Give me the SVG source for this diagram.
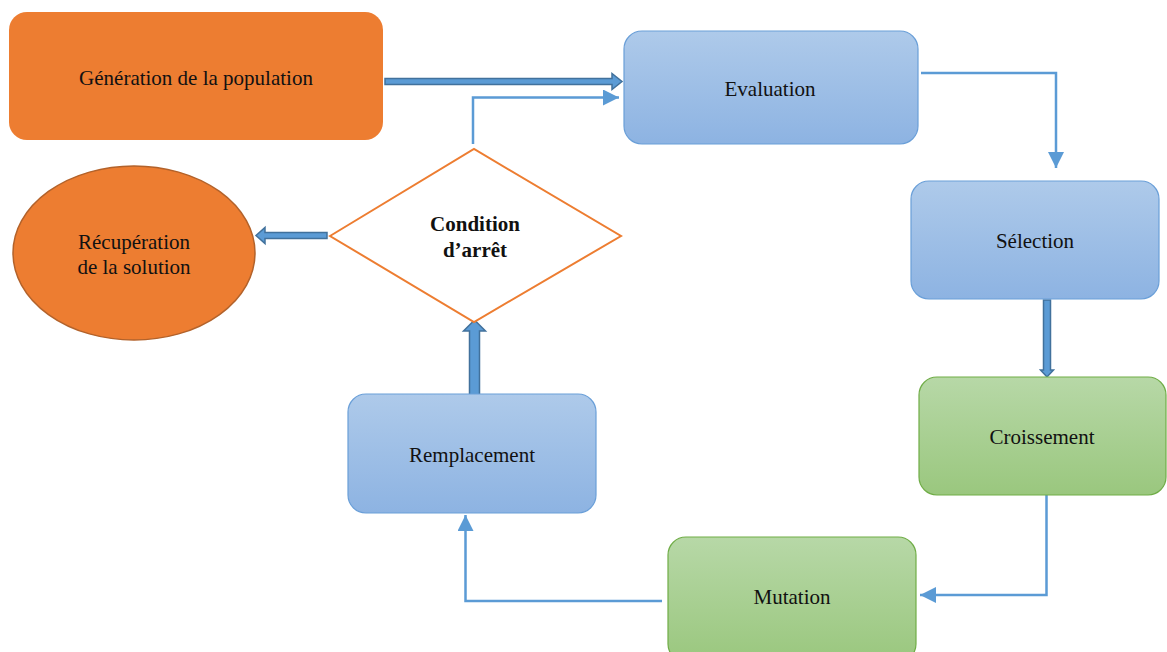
<svg xmlns="http://www.w3.org/2000/svg" width="1167" height="652" viewBox="0 0 1167 652">
  <defs>
    <linearGradient id="gBlue" x1="0" y1="0" x2="0" y2="1">
      <stop offset="0" stop-color="#AECAEA"/>
      <stop offset="1" stop-color="#8DB3E2"/>
    </linearGradient>
    <linearGradient id="gGreen" x1="0" y1="0" x2="0" y2="1">
      <stop offset="0" stop-color="#B7D8A7"/>
      <stop offset="1" stop-color="#9AC77E"/>
    </linearGradient>
    <marker id="tri" viewBox="0 0 16 16" refX="16" refY="8" markerWidth="16" markerHeight="16" markerUnits="userSpaceOnUse" orient="auto">
      <path d="M0,0 L16,8 L0,16 Z" fill="#5B9BD5"/>
    </marker>
  </defs>
  <style>
    .lbl { font-family: "Liberation Serif", "Times New Roman", serif; font-size: 21px; fill: #111; text-anchor: middle; }
    .bold { font-weight: bold; }
    .orange { fill: #ED7D31; }
    .blue { fill: url(#gBlue); stroke: #6A9FD8; stroke-width: 1.2; }
    .green { fill: url(#gGreen); stroke: #70AD47; stroke-width: 1.2; }
    .thin { fill: none; stroke: #5B9BD5; stroke-width: 2.5; marker-end: url(#tri); }
    .block { fill: #5B9BD5; stroke: #41719C; stroke-width: 1.5; stroke-linejoin: miter; }
  </style>
  <rect width="1167" height="652" fill="#FFFFFF"/>

  <g id="connectors">
    <!-- Génération -> Evaluation (block arrow) -->
    <polygon class="block" points="385,78.5 612,78.5 612,73.5 622,81.5 612,89.5 612,84.5 385,84.5"/>
    <!-- Condition -> Evaluation -->
    <polyline class="thin" points="473,144 473,97.5 619,97.5"/>
    <!-- Evaluation -> Sélection -->
    <polyline class="thin" points="921,73 1056,73 1056,168"/>
    <!-- Sélection -> Croissement (block arrow) -->
    <polygon class="block" points="1043.5,300 1050.5,300 1050.5,370 1053.5,370 1047,377 1040.5,370 1043.5,370"/>
    <!-- Croissement -> Mutation -->
    <polyline class="thin" points="1046.5,495 1046.5,595 920,595"/>
    <!-- Mutation -> Remplacement -->
    <polyline class="thin" points="662,601 465.5,601 465.5,515"/>
    <!-- Remplacement -> Condition (block arrow) -->
    <polygon class="block" points="469.5,395 479.5,395 479.5,331 485.5,331 474.5,320 463.5,331 469.5,331"/>
    <!-- Condition -> Récupération (block arrow) -->
    <polygon class="block" points="327,232.5 265,232.5 265,227.5 256,235.5 265,243.5 265,238.5 327,238.5"/>
  </g>

  <g id="generation">
    <rect class="orange" x="9" y="12" width="374" height="128" rx="18"/>
    <text class="lbl" x="196" y="85">Génération de la population</text>
  </g>

  <g id="evaluation">
    <rect class="blue" x="624" y="31" width="294" height="113" rx="18"/>
    <text class="lbl" x="770" y="96">Evaluation</text>
  </g>

  <g id="selection">
    <rect class="blue" x="911" y="181" width="248" height="118" rx="18"/>
    <text class="lbl" x="1035" y="248">Sélection</text>
  </g>

  <g id="croissement">
    <rect class="green" x="919" y="377" width="247" height="118" rx="18"/>
    <text class="lbl" x="1042" y="444">Croissement</text>
  </g>

  <g id="mutation">
    <rect class="green" x="668" y="537" width="248" height="125" rx="18"/>
    <text class="lbl" x="792" y="604">Mutation</text>
  </g>

  <g id="remplacement">
    <rect class="blue" x="348" y="394" width="248" height="119" rx="18"/>
    <text class="lbl" x="472" y="462">Remplacement</text>
  </g>

  <g id="condition">
    <polygon points="330,236 474,149 621,236 474,322" fill="#FFFFFF" stroke="#ED7D31" stroke-width="2"/>
    <text class="lbl bold" x="475" y="231">Condition</text>
    <text class="lbl bold" x="475" y="257">d’arrêt</text>
  </g>

  <g id="recuperation">
    <ellipse cx="134" cy="253" rx="121" ry="87" fill="#ED7D31" stroke="#B3622A" stroke-width="1.5"/>
    <text class="lbl" x="134" y="249">Récupération</text>
    <text class="lbl" x="134" y="274">de la solution</text>
  </g>
</svg>
